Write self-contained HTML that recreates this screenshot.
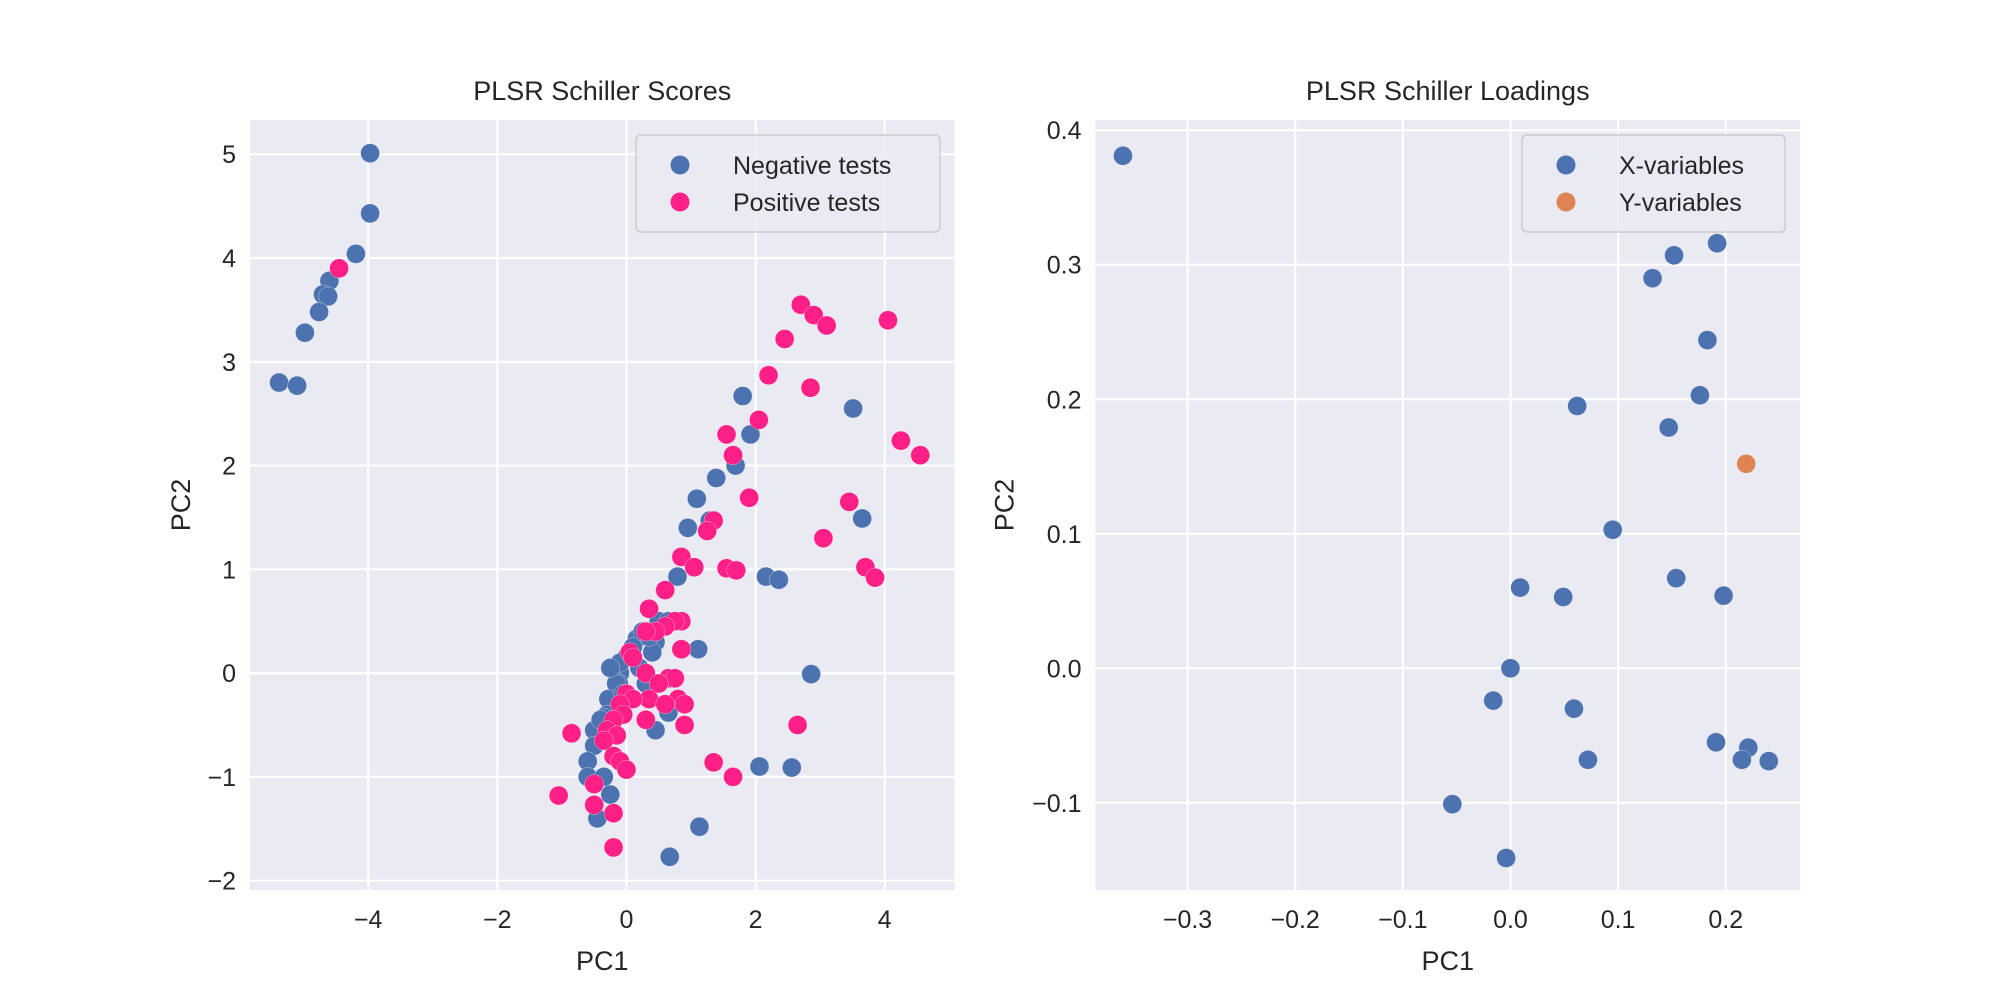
<!DOCTYPE html>
<html><head><meta charset="utf-8"><style>
html,body{margin:0;padding:0;background:#fff;}
svg text{font-family:"Liberation Sans",Arial,sans-serif;fill:#262626;}
</style></head><body>
<svg id="fig" width="2000" height="1000" viewBox="0 0 2000 1000" xmlns="http://www.w3.org/2000/svg">
<g id="left"></g>
<g id="right"></g>
</svg>
<script>
const negX=[-3.97,-3.97,-4.19,-4.6,-4.7,-4.62,-4.76,-4.98,-5.38,-5.1,1.8,1.92,3.51,1.69,1.39,1.09,3.65,1.29,0.95,2.16,2.36,0.79,1.11,2.86,2.06,2.56,1.13,0.67,0.16,0.1,0.0,-0.1,-0.12,-0.16,-0.28,-0.3,-0.35,-0.5,-0.4,-0.5,-0.6,-0.6,-0.35,-0.25,-0.45,0.45,0.65,0.55,0.45,0.4,-0.05,0.2,-0.1,-0.25,0.3,0.25,0.35,0.5,0.65];
const negY=[5.01,4.43,4.04,3.78,3.65,3.63,3.48,3.28,2.8,2.77,2.67,2.3,2.55,2.0,1.88,1.68,1.49,1.47,1.4,0.93,0.9,0.93,0.23,-0.01,-0.9,-0.91,-1.48,-1.77,0.33,0.25,0.15,0.0,-0.1,-0.1,-0.25,-0.4,-0.43,-0.55,-0.45,-0.7,-0.85,-1.0,-1.0,-1.17,-1.4,-0.55,-0.38,0.45,0.3,0.2,-0.2,0.05,0.1,0.05,-0.1,0.4,0.35,0.5,0.5];
const posX=[-4.45,2.7,2.9,3.1,4.05,2.45,2.2,2.85,1.55,2.05,1.65,1.9,4.25,4.55,3.45,1.35,1.25,3.05,0.85,1.05,1.55,1.7,3.7,3.85,0.6,0.35,0.85,0.75,0.6,0.45,0.3,0.05,0.1,0.85,0.3,0.65,0.75,0.5,0.35,0.8,0.6,0.0,0.1,-0.1,-0.05,0.3,-0.2,-0.3,-0.15,-0.35,-0.2,-0.1,0.0,-0.85,-1.05,-0.5,-0.5,-0.2,-0.2,2.65,1.35,1.65,0.9,0.9];
const posY=[3.9,3.55,3.45,3.35,3.4,3.22,2.87,2.75,2.3,2.44,2.1,1.69,2.24,2.1,1.65,1.47,1.37,1.3,1.12,1.02,1.01,0.99,1.02,0.92,0.8,0.62,0.5,0.5,0.45,0.4,0.4,0.2,0.15,0.23,0.0,-0.05,-0.05,-0.1,-0.25,-0.25,-0.3,-0.2,-0.25,-0.3,-0.4,-0.45,-0.45,-0.55,-0.6,-0.65,-0.8,-0.85,-0.93,-0.58,-1.18,-1.07,-1.27,-1.35,-1.68,-0.5,-0.86,-1.0,-0.5,-0.3];
const xvX=[-0.36,0.192,0.152,0.132,0.183,0.176,0.062,0.147,0.095,0.154,0.198,0.049,0.009,0.0,-0.016,0.059,0.072,0.191,0.221,0.215,0.24,-0.054,-0.004];
const xvY=[0.381,0.316,0.307,0.29,0.244,0.203,0.195,0.179,0.103,0.067,0.054,0.053,0.06,0.0,-0.024,-0.03,-0.068,-0.055,-0.059,-0.068,-0.069,-0.101,-0.141];
const yvX=[0.219];
const yvY=[0.152];
const leftXTicks=[-4,-2,0,2,4];
const leftYTicks=[-2,-1,0,1,2,3,4,5];
const rightXTicks=[-0.3,-0.2,-0.1,0.0,0.1,0.2];
const rightYTicks=[-0.1,0.0,0.1,0.2,0.3,0.4];

const NS="http://www.w3.org/2000/svg";
function mk(parent,tag,attrs,text){const e=document.createElementNS(NS,tag);for(const k in attrs)e.setAttribute(k,attrs[k]);if(text!==undefined)e.textContent=text;parent.appendChild(e);return e;}
function fmt(v,d){let s=v.toFixed(d);if(v<0&&parseFloat(s)!==0)s="\u2212"+s.slice(1);if(parseFloat(s)===0)s=(0).toFixed(d);return s;}

function panel(g,box,xl,yl,xt,yt,dec,title,series,legend,legBox){
  const sx=v=>box.x0+(v-xl[0])/(xl[1]-xl[0])*(box.x1-box.x0);
  const sy=v=>box.y1-(v-yl[0])/(yl[1]-yl[0])*(box.y1-box.y0);
  const bg=mk(g,'rect',{x:box.x0,y:box.y0,width:box.x1-box.x0,height:box.y1-box.y0,fill:'#eaeaf2'});
  
  
  xt.forEach(t=>{
    const l=mk(g,'line',{x1:sx(t),x2:sx(t),y1:box.y0,y2:box.y1,stroke:'#fff','stroke-width':2.2});
    
    
    const tx=mk(g,'text',{x:sx(t),y:box.y1+38,'text-anchor':'middle','font-size':25},fmt(t,dec));
    
    
  });
  yt.forEach(t=>{
    const l=mk(g,'line',{x1:box.x0,x2:box.x1,y1:sy(t),y2:sy(t),stroke:'#fff','stroke-width':2.2});
    
    
    const tx=mk(g,'text',{x:box.x0-14,y:sy(t)+9,'text-anchor':'end','font-size':25},fmt(t,dec));
    
    
  });
  series.forEach(s=>{
    s.x.forEach((v,i)=>{
      const c=mk(g,'circle',{cx:sx(v),cy:sy(s.y[i]),r:9.5,fill:s.c,stroke:'#fff','stroke-width':0.5,'stroke-opacity':0.6});
      
      
    });
  });
  const t=mk(g,'text',{x:(box.x0+box.x1)/2,y:box.y0-20,'text-anchor':'middle','font-size':27},title);
  
  
  const xl2=mk(g,'text',{x:(box.x0+box.x1)/2,y:box.y1+80,'text-anchor':'middle','font-size':27},'PC1');
  
  
  const cx=box.x0-(dec?82:60), cy=(box.y0+box.y1)/2;
  const yl2=mk(g,'text',{x:cx,y:cy,'text-anchor':'middle','font-size':27,transform:`rotate(-90 ${cx} ${cy})`},'PC2');
  
  
  const lg=mk(g,'g',{});
  
  
  mk(lg,'rect',{x:legBox.x,y:legBox.y,width:legBox.w,height:97,rx:5,fill:'#eaeaf2','fill-opacity':0.8,stroke:'#cccccc','stroke-width':1.5});
  legend.forEach((e,i)=>{
    const ent=mk(lg,'g',{});
    
    
    mk(ent,'circle',{cx:legBox.x+44,cy:legBox.y+30+i*37,r:9.5,fill:e.c});
    mk(ent,'text',{x:legBox.x+97,y:legBox.y+39+i*37,'font-size':25},e.t);
  });
}
const L=document.getElementById('left'), R=document.getElementById('right');
panel(L,{x0:250,x1:954.5,y0:120,y1:890},[-5.83,5.08],[-2.09,5.33],leftXTicks,leftYTicks,0,'PLSR Schiller Scores',
  [{x:negX,y:negY,c:'#4c72b0',n:'negative-test-point'},{x:posX,y:posY,c:'#fe1f87',n:'positive-test-point'}],
  [{c:'#4c72b0',t:'Negative tests'},{c:'#fe1f87',t:'Positive tests'}],{x:636,y:135,w:304});
panel(R,{x0:1095.5,x1:1800,y0:120,y1:890},[-0.3855,0.269],[-0.1648,0.4076],rightXTicks,rightYTicks,1,'PLSR Schiller Loadings',
  [{x:xvX,y:xvY,c:'#4c72b0',n:'x-variable-point'},{x:yvX,y:yvY,c:'#dd8452',n:'y-variable-point'}],
  [{c:'#4c72b0',t:'X-variables'},{c:'#dd8452',t:'Y-variables'}],{x:1522,y:135,w:263});
</script>
</body></html>
